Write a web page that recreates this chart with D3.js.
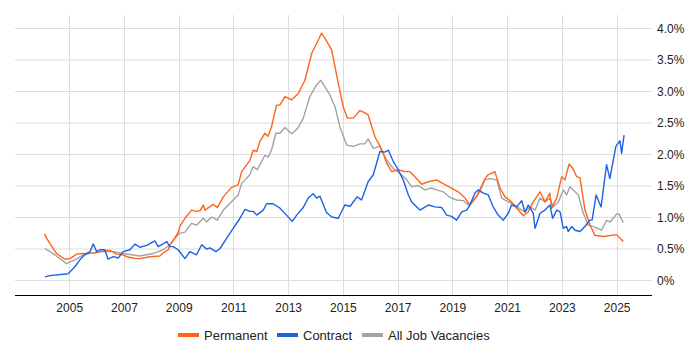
<!DOCTYPE html>
<html>
<head>
<meta charset="utf-8">
<script src="https://cdn.jsdelivr.net/npm/d3@7"></script>
<style>
  body { margin: 0; background: #fff; }
  text { font-family: "Liberation Sans", Arial, sans-serif; }
</style>
</head>
<body>
<div class="svg-container"></div>
<script>
// data: [decimal year, % of vacancies]
const permanent = [
  [2004.10, 0.73], [2004.18, 0.66], [2004.29, 0.58], [2004.54, 0.42], [2004.84, 0.33], [2005.03, 0.34],
  [2005.27, 0.41], [2005.51, 0.42], [2005.94, 0.43], [2006.37, 0.47], [2006.49, 0.47],
  [2006.73, 0.41], [2006.97, 0.40], [2007.10, 0.37], [2007.46, 0.34], [2007.58, 0.34],
  [2007.95, 0.37], [2008.31, 0.38], [2008.43, 0.43], [2008.62, 0.48], [2008.68, 0.56],
  [2008.80, 0.63], [2008.99, 0.76], [2009.04, 0.85], [2009.23, 0.98], [2009.47, 1.11],
  [2009.63, 1.09], [2009.78, 1.10], [2009.90, 1.19], [2009.96, 1.11], [2010.26, 1.20],
  [2010.41, 1.15], [2010.63, 1.32], [2010.93, 1.47], [2011.17, 1.51], [2011.30, 1.72],
  [2011.60, 1.90], [2011.72, 2.06], [2011.85, 2.04], [2011.97, 2.20], [2012.15, 2.33],
  [2012.26, 2.28], [2012.39, 2.43], [2012.57, 2.77], [2012.70, 2.78], [2012.88, 2.91],
  [2013.13, 2.86], [2013.37, 2.96], [2013.61, 3.17], [2013.86, 3.60], [2014.10, 3.81],
  [2014.22, 3.92], [2014.34, 3.84], [2014.59, 3.65], [2014.83, 3.12], [2015.01, 2.75],
  [2015.16, 2.57], [2015.38, 2.57], [2015.62, 2.69], [2015.77, 2.66], [2015.92, 2.62],
  [2016.17, 2.27], [2016.35, 2.13], [2016.47, 2.01], [2016.60, 1.85], [2016.78, 1.72],
  [2017.02, 1.75], [2017.27, 1.72], [2017.45, 1.72], [2017.63, 1.64], [2017.88, 1.52],
  [2018.12, 1.56], [2018.42, 1.59], [2018.66, 1.53], [2018.97, 1.46], [2019.21, 1.40],
  [2019.46, 1.30], [2019.64, 1.19], [2019.88, 1.32], [2020.19, 1.61], [2020.30, 1.67],
  [2020.55, 1.72], [2020.74, 1.46], [2020.92, 1.32], [2021.16, 1.24], [2021.35, 1.14],
  [2021.59, 1.02], [2021.77, 1.08], [2021.95, 1.24], [2022.20, 1.40], [2022.38, 1.24],
  [2022.56, 1.38], [2022.62, 1.14], [2022.81, 1.30], [2022.99, 1.64], [2023.11, 1.59],
  [2023.26, 1.84], [2023.40, 1.77], [2023.54, 1.64], [2023.66, 1.62], [2023.84, 1.11],
  [2024.02, 0.88], [2024.20, 0.71], [2024.51, 0.69], [2025.00, 0.72], [2025.24, 0.61]
];

const contract = [
  [2004.11, 0.05], [2004.29, 0.07], [2004.96, 0.10], [2005.21, 0.21], [2005.39, 0.32],
  [2005.57, 0.40], [2005.76, 0.45], [2005.88, 0.57], [2006.00, 0.45], [2006.12, 0.48],
  [2006.30, 0.48], [2006.42, 0.33], [2006.61, 0.37], [2006.79, 0.35], [2006.97, 0.45],
  [2007.22, 0.48], [2007.40, 0.57], [2007.58, 0.52], [2007.83, 0.55], [2008.13, 0.62],
  [2008.25, 0.53], [2008.38, 0.56], [2008.56, 0.61], [2008.68, 0.53], [2008.80, 0.53],
  [2008.98, 0.48], [2009.23, 0.34], [2009.41, 0.45], [2009.65, 0.40], [2009.84, 0.56],
  [2010.02, 0.49], [2010.14, 0.51], [2010.36, 0.45], [2010.51, 0.50], [2010.75, 0.66],
  [2010.99, 0.82], [2011.24, 0.98], [2011.42, 1.12], [2011.60, 1.09], [2011.72, 1.09],
  [2011.85, 1.03], [2012.09, 1.11], [2012.21, 1.21], [2012.45, 1.21], [2012.70, 1.14],
  [2012.94, 1.03], [2013.15, 0.93], [2013.31, 1.03], [2013.55, 1.15], [2013.73, 1.30],
  [2013.91, 1.37], [2014.04, 1.30], [2014.16, 1.33], [2014.40, 1.07], [2014.59, 1.00],
  [2014.83, 0.98], [2015.07, 1.19], [2015.26, 1.17], [2015.52, 1.32], [2015.68, 1.27],
  [2015.92, 1.56], [2016.11, 1.67], [2016.35, 2.04], [2016.53, 2.03], [2016.66, 2.06],
  [2016.84, 1.88], [2017.02, 1.75], [2017.20, 1.59], [2017.39, 1.35], [2017.51, 1.24],
  [2017.81, 1.11], [2018.12, 1.19], [2018.36, 1.16], [2018.61, 1.15], [2018.79, 1.03],
  [2018.97, 1.01], [2019.15, 0.95], [2019.34, 1.08], [2019.52, 1.11], [2019.64, 1.19],
  [2019.82, 1.38], [2019.94, 1.43], [2020.13, 1.38], [2020.31, 1.35], [2020.49, 1.16],
  [2020.67, 1.03], [2020.86, 0.95], [2021.04, 1.06], [2021.16, 1.19], [2021.35, 1.16],
  [2021.53, 1.26], [2021.65, 1.08], [2021.77, 1.19], [2021.95, 1.06], [2022.02, 0.82],
  [2022.20, 1.06], [2022.38, 1.11], [2022.56, 1.19], [2022.66, 0.98], [2022.81, 1.11],
  [2022.93, 1.08], [2023.05, 0.82], [2023.17, 0.85], [2023.23, 0.77], [2023.36, 0.85],
  [2023.48, 0.79], [2023.66, 0.77], [2023.84, 0.85], [2024.02, 0.95], [2024.10, 0.95],
  [2024.25, 1.35], [2024.43, 1.16], [2024.63, 1.83], [2024.75, 1.61], [2024.97, 2.12],
  [2025.12, 2.21], [2025.18, 2.01], [2025.27, 2.30]
];

const allJobs = [
  [2004.11, 0.50], [2004.48, 0.40], [2004.90, 0.26], [2005.21, 0.32], [2005.51, 0.40],
  [2006.12, 0.45], [2006.61, 0.45], [2006.97, 0.42], [2007.58, 0.38], [2008.07, 0.42],
  [2008.43, 0.48], [2008.68, 0.56], [2008.80, 0.63], [2009.04, 0.74], [2009.23, 0.76],
  [2009.47, 0.90], [2009.65, 0.87], [2009.90, 0.98], [2010.02, 0.92], [2010.20, 1.00],
  [2010.41, 0.95], [2010.63, 1.11], [2010.99, 1.27], [2011.17, 1.35], [2011.30, 1.53],
  [2011.60, 1.67], [2011.72, 1.80], [2011.87, 1.75], [2012.15, 1.98], [2012.27, 1.95],
  [2012.39, 2.06], [2012.55, 2.33], [2012.70, 2.33], [2012.88, 2.42], [2013.13, 2.32],
  [2013.37, 2.42], [2013.55, 2.57], [2013.79, 2.91], [2014.04, 3.10], [2014.19, 3.17],
  [2014.34, 3.07], [2014.52, 2.94], [2014.71, 2.75], [2014.89, 2.43], [2015.14, 2.14],
  [2015.38, 2.12], [2015.62, 2.16], [2015.80, 2.16], [2015.92, 2.24], [2016.11, 2.09],
  [2016.35, 2.12], [2016.60, 1.90], [2016.84, 1.77], [2017.08, 1.69], [2017.33, 1.59],
  [2017.51, 1.48], [2017.75, 1.50], [2018.00, 1.43], [2018.24, 1.46], [2018.42, 1.43],
  [2018.66, 1.40], [2018.91, 1.31], [2019.15, 1.27], [2019.40, 1.26], [2019.58, 1.19],
  [2019.82, 1.30], [2020.00, 1.40], [2020.19, 1.59], [2020.37, 1.61], [2020.62, 1.59],
  [2020.74, 1.40], [2020.80, 1.30], [2021.04, 1.24], [2021.28, 1.19], [2021.53, 1.11],
  [2021.65, 1.08], [2021.83, 1.16], [2022.02, 1.11], [2022.20, 1.30], [2022.38, 1.24],
  [2022.56, 1.30], [2022.68, 1.16], [2022.87, 1.24], [2023.05, 1.43], [2023.17, 1.35],
  [2023.29, 1.48], [2023.48, 1.40], [2023.60, 1.35], [2023.78, 1.06], [2023.96, 0.87],
  [2024.20, 0.84], [2024.45, 0.79], [2024.63, 0.95], [2024.76, 0.92], [2025.00, 1.05],
  [2025.08, 1.05], [2025.24, 0.91]
];

const yearTicks = [2005, 2007, 2009, 2011, 2013, 2015, 2017, 2019, 2021, 2023, 2025];
const pctTicks = [0, 0.5, 1, 1.5, 2, 2.5, 3, 3.5, 4];

const series = [
  { name: 'Permanent', values: permanent, color: '#ff6419' },
  { name: 'Contract', values: contract, color: '#1c62e4' },
  { name: 'All Job Vacancies', values: allJobs, color: '#a3a3a3' }
];

const width = 700;
const height = 350;
const plot = { left: 15, right: 652, top: 15, bottom: 295 };

const svg = d3.select('.svg-container')
  .append('svg')
  .attr('width', width)
  .attr('height', height);

const x = d3.scaleLinear().domain([2003.02, 2026.29]).range([plot.left, plot.right]);
const y = d3.scaleLinear().domain([0, 4]).range([280, 28]);

// grid lines
svg.append('g')
  .selectAll('line')
  .data(pctTicks)
  .enter()
  .append('line')
  .attr('x1', plot.left)
  .attr('x2', plot.right)
  .attr('y1', d => y(d) + 0.5)
  .attr('y2', d => y(d) + 0.5)
  .attr('stroke', '#dcdcdc');

svg.append('g')
  .selectAll('line')
  .data(yearTicks)
  .enter()
  .append('line')
  .attr('x1', d => Math.round(x(d)) + 0.5)
  .attr('x2', d => Math.round(x(d)) + 0.5)
  .attr('y1', plot.top)
  .attr('y2', plot.bottom)
  .attr('stroke', '#dcdcdc');

// y axis labels on the right
svg.append('g')
  .selectAll('text')
  .data(pctTicks)
  .enter()
  .append('text')
  .attr('x', 657)
  .attr('y', d => y(d) + 4.5)
  .attr('font-size', 12)
  .attr('fill', '#222')
  .text(d => d === 0 ? '0%' : d3.format('.1f')(d) + '%');

// x axis
const xAxis = d3.axisBottom(x)
  .tickValues(yearTicks)
  .tickFormat(d3.format('d'))
  .tickSize(0)
  .tickPadding(8);

const gx = svg.append('g')
  .attr('transform', `translate(0,${plot.bottom})`)
  .call(xAxis);
gx.select('.domain').remove();
gx.selectAll('text')
  .attr('font-size', 12)
  .attr('font-family', '"Liberation Sans", Arial, sans-serif')
  .attr('fill', '#222');

svg.append('line')
  .attr('x1', plot.left)
  .attr('x2', plot.right)
  .attr('y1', plot.bottom + 0.5)
  .attr('y2', plot.bottom + 0.5)
  .attr('stroke', '#000');

// lines
const line = d3.line()
  .x(d => x(d[0]))
  .y(d => y(d[1]));

const drawOrder = [series[2], series[0], series[1]];
svg.append('g')
  .selectAll('path')
  .data(drawOrder)
  .enter()
  .append('path')
  .attr('d', d => line(d.values))
  .attr('fill', 'none')
  .attr('stroke', d => d.color)
  .attr('stroke-width', 1.4)
  .attr('stroke-linejoin', 'round');

// legend
const legendPos = [178, 277, 362];
const legend = svg.append('g')
  .selectAll('g')
  .data(series)
  .enter()
  .append('g')
  .attr('transform', (d, i) => `translate(${legendPos[i]},335)`);

legend.append('rect')
  .attr('x', 0)
  .attr('y', -2)
  .attr('width', 21)
  .attr('height', 4)
  .attr('fill', d => d.color);

legend.append('text')
  .attr('x', 26)
  .attr('y', 4.5)
  .attr('font-size', 13)
  .attr('fill', '#222')
  .text(d => d.name);
</script>
</body>
</html>
